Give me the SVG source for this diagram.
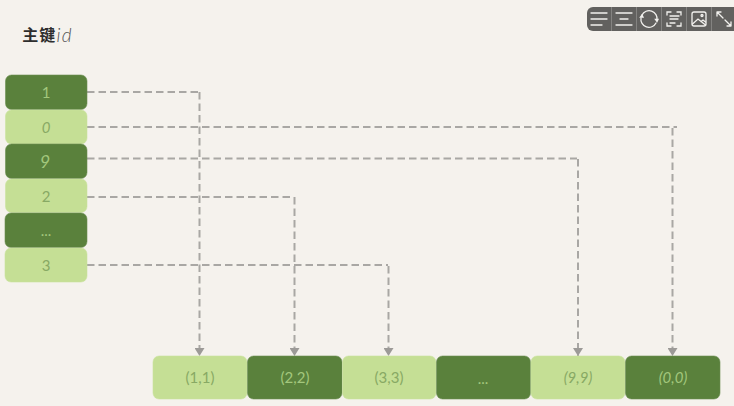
<svg xmlns="http://www.w3.org/2000/svg" width="734" height="406" viewBox="0 0 734 406">
<defs>
<marker id="arrow" markerUnits="userSpaceOnUse" markerWidth="9" markerHeight="10" refX="8" refY="5" orient="auto"><path d="M0 0L8 5L0 10Z" fill="#9c9a97"/></marker>
</defs>
<style>
text{font-family:"Lato","Liberation Sans",sans-serif;font-size:15px;text-anchor:middle;dominant-baseline:central}
.dark rect{fill:#5a813c;stroke:#6c8f52;stroke-width:.6}
.light rect{fill:#c5df95;stroke:#cbe2a0;stroke-width:.6}
.dark text{fill:#a3c77c}
.light text{fill:#88a964}
#connectors path{fill:none;stroke:#a9a7a4;stroke-width:2;stroke-dasharray:7.500 4}
#connectors path.arrow{marker-end:url(#arrow)}
#toolbar path,#toolbar circle,#toolbar rect.i{fill:none;stroke:#f2f1ee;stroke-width:1.3;stroke-linecap:round}
#toolbar .sep{stroke:#8d8c8a;stroke-width:.8}
</style>
<rect width="734" height="406" fill="#f5f2ed"/>
<g id="title"><text x="47.500" y="34" letter-spacing="1.200" style="font-family:'Noto Sans CJK SC','Noto Sans',sans-serif;font-size:16px;fill:#2e2e2e" font-weight="700">主键<tspan font-weight="300" style="font-family:'Lato',sans-serif;font-size:19px" fill="#555" font-style="italic">id</tspan></text></g>
<g id="connectors">
<path d="M87 92H199"/>
<path class="arrow" d="M199.500 92V356"/>
<path d="M87 127H677"/>
<path class="arrow" d="M672.500 128V356"/>
<path d="M87 158.500H577"/>
<path class="arrow" d="M578 159V356"/>
<path d="M87 197H294"/>
<path class="arrow" d="M294.500 197V356"/>
<path d="M87 265H388"/>
<path class="arrow" d="M388.500 266V356"/>
</g>
<g id="k1" class="dark"><rect x="5.500" y="75" width="81.500" height="34.500" rx="6"/><text x="46" y="92">1</text></g>
<g id="k0" class="light"><rect x="5.500" y="110" width="81.500" height="34" rx="6"/><text x="46" y="126.500" font-style="italic">0</text></g>
<g id="k9" class="dark"><rect x="5.500" y="144" width="81.500" height="34.500" rx="6"/><text x="45" y="161" font-style="italic" style="font-size:18px">9</text></g>
<g id="k2" class="light"><rect x="5.500" y="179" width="81.500" height="33.500" rx="6"/><text x="46" y="195.500">2</text></g>
<g id="kd" class="dark"><rect x="5" y="213" width="82" height="34.500" rx="6"/><text x="46" y="230">...</text></g>
<g id="k3" class="light"><rect x="5" y="248" width="82" height="34" rx="6"/><text x="46" y="264.500">3</text></g>
<g id="p1" class="light"><rect x="153" y="356" width="94" height="43" rx="6"/><text x="200" y="377">(1,1)</text></g>
<g id="p2" class="dark"><rect x="247.500" y="356" width="94.500" height="43" rx="6"/><text x="295" y="377">(2,2)</text></g>
<g id="p3" class="light"><rect x="342.500" y="356" width="93.500" height="43" rx="6"/><text x="389" y="377">(3,3)</text></g>
<g id="pd" class="dark"><rect x="436.500" y="356" width="94" height="43" rx="6"/><text x="483" y="378">...</text></g>
<g id="p9" class="light"><rect x="531" y="356" width="94" height="43" rx="6"/><text x="578" y="377" font-style="italic">(9,9)</text></g>
<g id="p0" class="dark"><rect x="625.500" y="356" width="94.500" height="43" rx="6"/><text x="673" y="377" font-style="italic">(0,0)</text></g>
<g id="toolbar">
<path d="M593 7H734V31H593A6 6 0 0 1 587 25V13A6 6 0 0 1 593 7Z" style="fill:#62615f;stroke:none"/>
<line class="sep" x1="611.500" y1="7" x2="611.500" y2="31"/><line class="sep" x1="636.500" y1="7" x2="636.500" y2="31"/><line class="sep" x1="661.500" y1="7" x2="661.500" y2="31"/><line class="sep" x1="686.500" y1="7" x2="686.500" y2="31"/><line class="sep" x1="711.500" y1="7" x2="711.500" y2="31"/>
<path d="M591 13H607M591 19H607M591 25H602"/>
<path d="M616 13H632M620 19H628M616 25H632"/>
<path d="M642 15A8 8 0 0 1 657 20M656 23A8 8 0 0 1 641 18"/>
<path style="fill:#f2f1ee" d="M655.500 19.500L658 19.500L657 21.500ZM640.500 17L643 17L642 15Z"/>
<path d="M667 15V12H671M677 12H681V15M667 23V26H671M677 26H681V23M670 16H679M670 19H678M670 23H675"/>
<rect class="i" x="692" y="12" width="14" height="14" rx="2"/>
<path d="M692.500 24L698 19L705.500 25M701 21.500L703 20L705.500 22"/>
<circle cx="702" cy="15.500" r="1"/>
<path d="M717 12L723 18M717 12H721M717 12V16M731 26L725 20M731 26H727M731 26V22"/>
</g>
</svg>
